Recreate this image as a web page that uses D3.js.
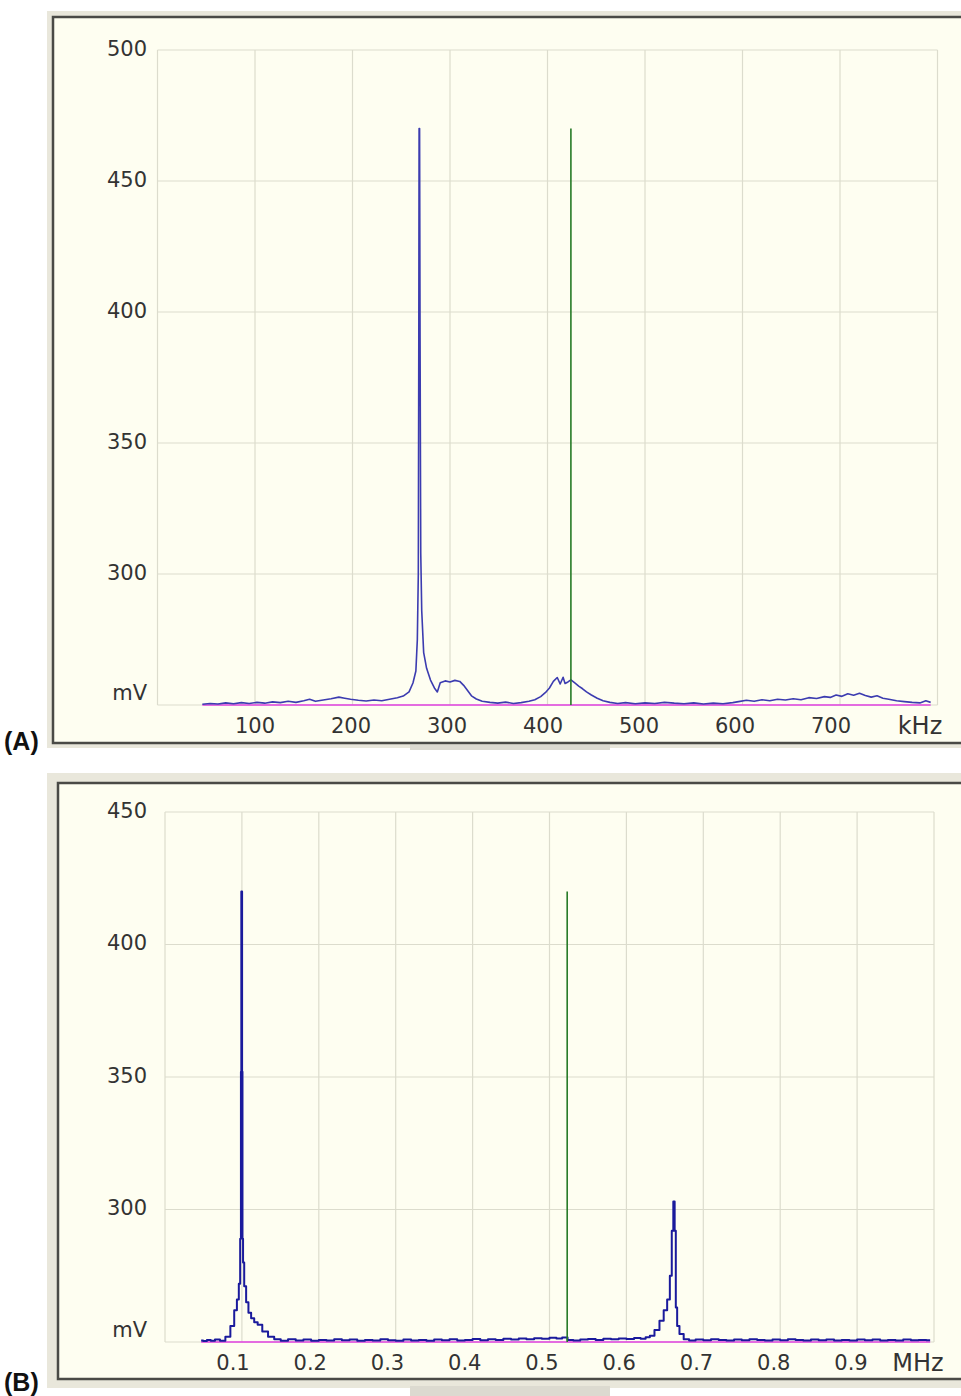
<!DOCTYPE html>
<html>
<head>
<meta charset="utf-8">
<script src="https://cdn.jsdelivr.net/npm/d3@7"></script>
<style>
  body { margin: 0; background: #fff; }
  svg { display: block; }
  .tick-label { font-family: "DejaVu Sans", sans-serif; fill: #333; }
</style>
</head>
<body>
<div id="figure"></div>
<script>
// spectrum A, frequency in kHz, amplitude in mV
const freqA = [46, 54, 62, 70, 78, 86, 94, 102, 110, 118, 126, 134, 142, 150, 156, 162, 170, 178, 186, 192,
    198, 206, 214, 222, 230, 238, 246, 252, 258, 262, 265, 266.5, 267.5, 268, 268.3, 268.8, 269.3, 270, 271, 273,
    276, 280, 284, 287, 290, 295, 300, 305, 310, 314, 318, 322, 327, 333, 341, 349, 357, 365, 373, 381,
    387, 393, 398, 402, 406, 410, 413, 416, 418, 421, 424, 428, 432, 436, 440, 445, 451, 457, 464, 472,
    480, 490, 500, 510, 520, 530, 540, 550, 560, 570, 580, 590, 596, 604, 612, 620, 628, 636, 644, 652,
    660, 668, 676, 684, 690, 696, 702, 708, 714, 720, 726, 732, 738, 744, 750, 758, 766, 774, 782, 788, 793];
const mvA = [250.3, 250.6, 250.4, 250.8, 250.5, 250.9, 250.6, 251.0, 250.7, 251.2, 250.9, 251.4, 251.0, 251.6, 252.2, 251.4, 251.9, 252.4, 253.0, 252.6,
    252.2, 251.8, 251.5, 251.9, 251.6, 252.2, 252.8, 253.4, 255, 258.4, 263, 275, 300, 390, 470, 470, 390, 308, 286, 270,
    264, 259.5, 256.5, 255, 258.5, 259.2, 258.8, 259.4, 259, 257.5, 255.5, 253.5, 252.3, 251.4, 251.0, 250.7, 251.1, 250.6, 250.9, 251.4,
    252, 253.2, 254.8, 256.5, 259, 260.5, 258, 260.6, 258.2, 258.8, 259.6, 258.4, 257.2, 256.2, 255, 253.8, 252.6, 251.6, 251.0, 250.6,
    250.9, 250.5, 250.8, 250.6, 251.0, 250.7, 250.5, 250.8, 250.4, 250.7, 250.5, 250.9, 251.3, 251.8, 251.4, 252.0, 251.6, 252.2, 251.9, 252.4,
    252.0, 252.8, 252.5, 253.2, 252.9, 253.8, 253.3, 254.3, 253.7, 254.5, 253.6, 253.0, 253.5, 252.6, 252.2, 251.6, 251.3, 251.0, 250.8, 251.6, 251.0];
const markerA = 424;           // kHz, green cursor
const markerTopA = 470;        // mV
const xTicksA = [100, 200, 300, 400, 500, 600, 700];
const yTicksA = [250, 300, 350, 400, 450, 500];

// spectrum B, frequency in MHz, amplitude in mV
const freqB = [0.047, 0.052, 0.057, 0.062, 0.068, 0.075, 0.082, 0.088, 0.092, 0.095, 0.097, 0.0985, 0.099, 0.0995, 0.1, 0.1005, 0.101, 0.102, 0.104, 0.107,
    0.11, 0.114, 0.118, 0.123, 0.13, 0.138, 0.146, 0.155, 0.165, 0.175, 0.185, 0.195, 0.205, 0.215, 0.225, 0.235, 0.245, 0.255, 0.265, 0.275,
    0.285, 0.295, 0.305, 0.315, 0.325, 0.335, 0.345, 0.355, 0.365, 0.375, 0.385, 0.395, 0.405, 0.415, 0.425, 0.435, 0.445, 0.455, 0.465, 0.475,
    0.485, 0.495, 0.505, 0.513, 0.52, 0.527, 0.535, 0.545, 0.555, 0.565, 0.575, 0.585, 0.595, 0.605, 0.615, 0.622, 0.628, 0.633, 0.64, 0.646,
    0.651, 0.655, 0.658, 0.66, 0.662, 0.6635, 0.665, 0.667, 0.671, 0.678, 0.685, 0.695, 0.705, 0.715, 0.725, 0.735, 0.745, 0.755, 0.765, 0.775,
    0.785, 0.795, 0.805, 0.815, 0.825, 0.835, 0.845, 0.855, 0.865, 0.875, 0.885, 0.895, 0.905, 0.915, 0.925, 0.935, 0.945, 0.955, 0.965, 0.975,
    0.985, 0.995];
const mvB = [250.6, 250.4, 250.8, 250.5, 250.9, 250.5, 252, 256, 262, 266, 272, 289, 352, 420, 420, 352, 289, 280, 271, 265,
    261, 259, 257.5, 256.5, 254, 252, 251, 250.5, 251.0, 250.6, 250.9, 250.5, 250.8, 250.6, 251.0, 250.7, 250.9, 250.5, 250.8, 250.6,
    251.0, 250.7, 250.5, 250.9, 250.6, 250.8, 250.5, 250.9, 250.7, 251.0, 250.6, 250.8, 251.1, 250.7, 251.0, 250.8, 251.2, 250.9, 251.3, 251.0,
    251.4, 251.2, 251.6, 251.3, 251.7, 250.8, 250.6, 250.9, 251.1, 250.8, 251.2, 251.0, 251.3, 251.1, 251.5, 251.2, 251.8, 252.4, 254.5, 258,
    262, 266, 275, 292, 303, 292, 263, 256, 253, 251, 250.6, 250.9, 250.7, 251.0, 250.8, 250.6, 250.9, 250.7, 251.0, 250.8,
    250.6, 250.9, 250.7, 251.0, 250.8, 250.6, 250.9, 250.7, 250.9, 250.6, 250.8, 250.6, 250.9, 250.7, 250.9, 250.6, 250.8, 250.6, 250.9, 250.7,
    250.8, 250.7];
const markerB = 0.523;         // MHz, green cursor
const markerTopB = 420;        // mV
const xTicksB = [0.1, 0.2, 0.3, 0.4, 0.5, 0.6, 0.7, 0.8, 0.9];
const yTicksB = [250, 300, 350, 400, 450];

const svg = d3.select("#figure").append("svg")
    .attr("width", 961)
    .attr("height", 1396);

drawPanel({
    label: "(A)", labelY: 750,
    frame: {x: 47, y: 11, w: 930, h: 737}, border: {x: 53, y: 17, w: 930, h: 726},
    tab: {x: 410, y: 745, w: 200, h: 5},
    xDomain: [0, 800], xRange: [157.5, 937.5],
    xLabelDomain: [100, 700], xLabelRange: [255, 831],
    yDomain: [250, 500], yRange: [705, 50],
    xTicks: xTicksA, yTicks: yTicksA, xFmt: d => d,
    xLabelY: 733, unit: "kHz", unitX: 920,
    freq: freqA, mv: mvA, lineColor: "#3c3cb0", lineWidth: 1.6, curve: d3.curveLinear,
    marker: markerA, markerTop: markerTopA
});

drawPanel({
    label: "(B)", labelY: 1391,
    frame: {x: 47, y: 773, w: 930, h: 615}, border: {x: 58, y: 783, w: 930, h: 596},
    tab: {x: 410, y: 1386, w: 200, h: 10},
    xDomain: [0, 1], xRange: [165, 934],
    xLabelDomain: [0.1, 0.9], xLabelRange: [233, 851],
    yDomain: [250, 450], yRange: [1342, 812],
    xTicks: xTicksB, yTicks: yTicksB, xFmt: d3.format(".1f"),
    xLabelY: 1370, unit: "MHz", unitX: 918,
    freq: freqB, mv: mvB, lineColor: "#1a1a9c", lineWidth: 2, curve: d3.curveStep,
    marker: markerB, markerTop: markerTopB
});

function drawPanel(p) {
    const g = svg.append("g");
    const x = d3.scaleLinear().domain(p.xDomain).range(p.xRange);
    const xl = d3.scaleLinear().domain(p.xLabelDomain).range(p.xLabelRange);
    const y = d3.scaleLinear().domain(p.yDomain).range(p.yRange);

    // window frame
    g.append("rect").attr("x", p.frame.x).attr("y", p.frame.y)
        .attr("width", p.frame.w).attr("height", p.frame.h).attr("fill", "#e9e7db");
    g.append("rect").attr("x", p.tab.x).attr("y", p.tab.y)
        .attr("width", p.tab.w).attr("height", p.tab.h).attr("fill", "#dcdad0");
    g.append("rect").attr("x", p.border.x).attr("y", p.border.y)
        .attr("width", p.border.w).attr("height", p.border.h)
        .attr("fill", "#fefef1").attr("stroke", "#4a4a46").attr("stroke-width", 2.5);

    // grid
    const grid = g.append("g").attr("stroke", "#dcdccd").attr("stroke-width", 1.2);
    grid.selectAll(".vg").data([p.xDomain[0]].concat(p.xTicks, [p.xDomain[1]])).enter().append("line")
        .attr("x1", d => x(d)).attr("x2", d => x(d))
        .attr("y1", y.range()[0]).attr("y2", y.range()[1]);
    grid.selectAll(".hg").data(p.yTicks).enter().append("line")
        .attr("x1", x.range()[0]).attr("x2", x.range()[1])
        .attr("y1", d => y(d)).attr("y2", d => y(d));

    // y labels, bottom one is the unit
    g.selectAll(".yl").data(p.yTicks).enter().append("text")
        .attr("class", "tick-label")
        .attr("x", 147)
        .attr("y", d => y(d) + (d === p.yDomain[0] ? -13 : -2))
        .attr("dy", "0.36em")
        .attr("text-anchor", "end")
        .attr("font-size", 21)
        .text(d => d === p.yDomain[0] ? "mV" : d);

    // x labels
    g.selectAll(".xl").data(p.xTicks).enter().append("text")
        .attr("class", "tick-label")
        .attr("x", d => xl(d))
        .attr("y", p.xLabelY)
        .attr("text-anchor", "middle")
        .attr("font-size", 21)
        .text(p.xFmt);
    g.append("text").attr("class", "tick-label")
        .attr("x", p.unitX).attr("y", p.xLabelY + 1)
        .attr("text-anchor", "middle").attr("font-size", 24)
        .text(p.unit);

    // zero line
    g.append("line")
        .attr("x1", x(p.freq[0])).attr("x2", x(p.freq[p.freq.length - 1]))
        .attr("y1", y(p.yDomain[0])).attr("y2", y(p.yDomain[0]))
        .attr("stroke", "#e040e0").attr("stroke-width", 1.6);

    // spectrum
    const pts = p.freq.map((f, i) => [f, p.mv[i]]);
    const line = d3.line().x(d => x(d[0])).y(d => y(d[1])).curve(p.curve);
    g.append("path").datum(pts)
        .attr("d", line)
        .attr("fill", "none")
        .attr("stroke", p.lineColor)
        .attr("stroke-width", p.lineWidth)
        .attr("stroke-linejoin", "round");

    // cursor
    g.append("line")
        .attr("x1", x(p.marker)).attr("x2", x(p.marker))
        .attr("y1", y(p.yDomain[0])).attr("y2", y(p.markerTop))
        .attr("stroke", "#267a26").attr("stroke-width", 1.6);

    // panel letter
    g.append("text")
        .attr("x", 4).attr("y", p.labelY)
        .attr("font-family", "Liberation Sans, Arial, sans-serif")
        .attr("font-weight", "bold").attr("font-size", 25)
        .attr("fill", "#111")
        .text(p.label);
}
</script>
</body>
</html>
